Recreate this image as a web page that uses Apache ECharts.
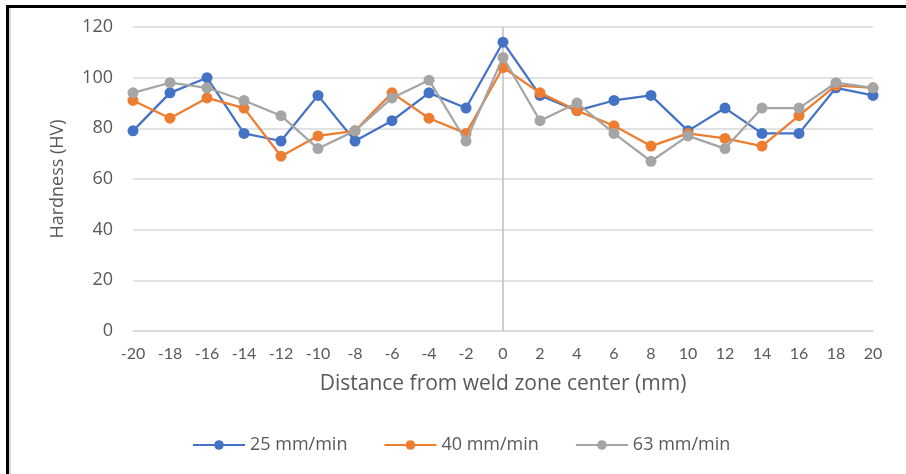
<!DOCTYPE html>
<html>
<head>
<meta charset="utf-8">
<style>
  html, body { margin: 0; padding: 0; background: #fff; }
  #chart { width: 906px; height: 474px; }
</style>
<script src="https://cdn.jsdelivr.net/npm/echarts@6/dist/echarts.min.js"></script>
</head>
<body>
<div id="chart"></div>
<script>
// Distance from the weld zone centre (mm)
const distance = [-20, -18, -16, -14, -12, -10, -8, -6, -4, -2, 0, 2, 4, 6, 8, 10, 12, 14, 16, 18, 20];

// Hardness (HV) per traverse speed
const speed25 = [79, 94, 100, 78, 75, 93, 75, 83, 94, 88, 114, 93, 87, 91, 93, 79, 88, 78, 78, 96, 93];
const speed40 = [91, 84, 92, 88, 69, 77, 79, 94, 84, 78, 104, 94, 87, 81, 73, 78, 76, 73, 85, 97, 96];
const speed63 = [94, 98, 96, 91, 85, 72, 79, 92, 99, 75, 108, 83, 90, 78, 67, 77, 72, 88, 88, 98, 96];

const seriesNames = ['25 mm/min', '40 mm/min', '63 mm/min'];
const seriesColors = ['#4472C4', '#ED7D31', '#A5A5A5'];
const seriesValues = [speed25, speed40, speed63];

const FONT = 'Open Sans';
const TEXT = '#595959';

const chart = echarts.init(document.getElementById('chart'), null, { renderer: 'canvas' });

const series = seriesValues.map((vals, i) => ({
  name: seriesNames[i],
  type: 'line',
  data: distance.map((d, k) => [d, vals[k]]),
  symbol: 'circle',
  symbolSize: 11,
  lineStyle: { width: 2.25, color: seriesColors[i] },
  itemStyle: { color: seriesColors[i] },
  z: 3 + i,
  animation: false
}));

// vertical axis line crossing at zero distance
series[0].markLine = {
  silent: true,
  symbol: 'none',
  label: { show: false },
  lineStyle: { color: '#BFBFBF', width: 1.5, type: 'solid' },
  data: [{ xAxis: 0 }],
  z: 1
};

chart.setOption({
  backgroundColor: '#ffffff',
  animation: false,
  grid: { left: 133, top: 27, width: 740, height: 304, containLabel: false },
  xAxis: {
    type: 'value',
    min: -20,
    max: 20,
    interval: 2,
    name: 'Distance from weld zone center (mm)',
    nameLocation: 'middle',
    nameGap: 43,
    nameTextStyle: { fontFamily: FONT, fontSize: 21, color: TEXT },
    axisLine: { show: true, onZero: false, lineStyle: { color: '#D9D9D9', width: 1.5 } },
    axisTick: { show: false },
    splitLine: { show: false },
    axisLabel: { fontFamily: 'Lato', fontSize: 16, color: TEXT, margin: 15 }
  },
  yAxis: {
    type: 'value',
    min: 0,
    max: 120,
    interval: 20,
    name: 'Hardness (HV)',
    nameLocation: 'middle',
    nameGap: 66,
    nameTextStyle: { fontFamily: FONT, fontSize: 18, color: TEXT },
    axisLine: { show: false },
    axisTick: { show: false },
    splitLine: { lineStyle: { color: '#D9D9D9', width: 1.5 } },
    axisLabel: { fontFamily: FONT, fontSize: 18, color: TEXT, margin: 20 }
  },
  legend: {
    data: seriesNames,
    bottom: 15,
    left: 187,
    itemWidth: 52,
    itemHeight: 12,
    itemGap: 36,
    textStyle: { fontFamily: FONT, fontSize: 18, color: TEXT }
  },
  graphic: [
    { type: 'rect', silent: true, shape: { x: 6, y: 5, width: 906, height: 3 }, style: { fill: '#000' } },
    { type: 'rect', silent: true, shape: { x: 6, y: 5, width: 3, height: 474 }, style: { fill: '#000' } },
    { type: 'rect', silent: true, shape: { x: 9, y: 8, width: 2, height: 474 }, style: { fill: '#D9D9D9' } }
  ],
  series: series
});
</script>
</body>
</html>
